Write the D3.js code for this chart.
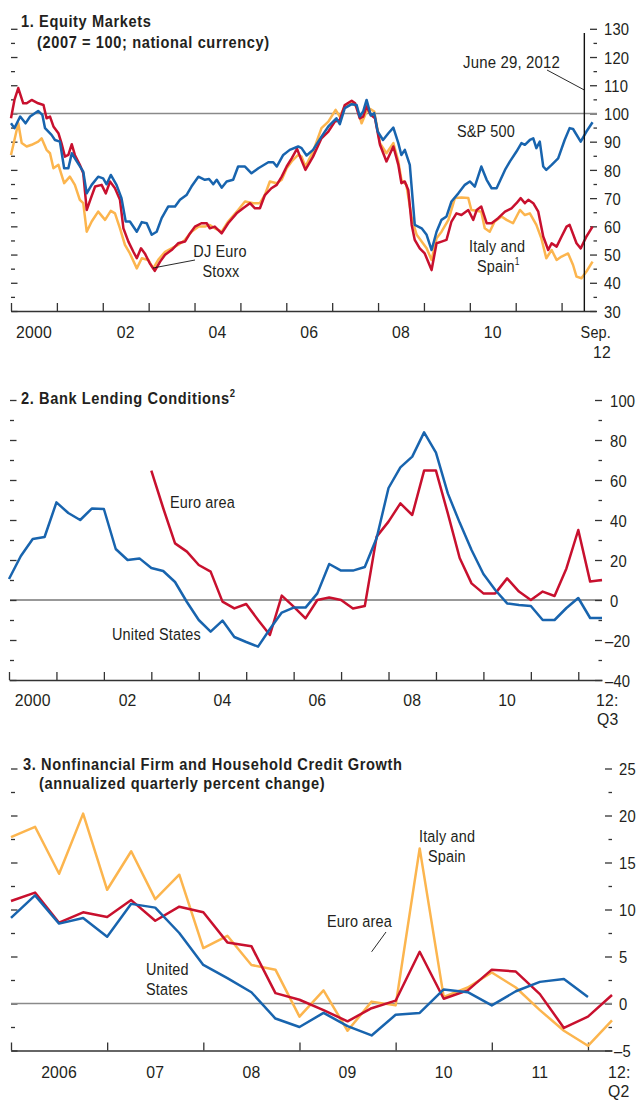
<!DOCTYPE html>
<html>
<head>
<meta charset="utf-8">
<script src="https://cdn.jsdelivr.net/npm/d3@7"></script>
<style>
body { margin: 0; background: #fff; }
text { font-family: "Liberation Sans", Arial, sans-serif; fill: #231f20; font-size: 17px; letter-spacing: 0.2px; }
.title { font-weight: bold; letter-spacing: 0.7px; }
.tick line { stroke: #333; stroke-width: 1.3; }
.tick text { font-size: 17px; fill: #231f20; }
.series { fill: none; stroke-width: 2.5; stroke-linejoin: round; }
</style>
</head>
<body>
<svg id="chart" width="637" height="1100"></svg>
<script>
// ---- panel 1: equity markets, [months since Jan 2000, index 2007=100]
var sp500 = [[0,96.5],[0.9,94.8],[2.4,98.9],[3.8,96.5],[5.0,98.9],[7.1,100.9],[8.2,99.5],[8.9,94.8],[10.6,92.4],[11.5,90.6],[12.8,90],[13.9,80.6],[15.0,80.6],[15.9,85.9],[17.2,83],[18.9,79.4],[19.8,71.7],[21.1,74.7],[22.8,77.6],[24.1,77],[25.0,74.9],[26.1,78.2],[27.6,74.7],[28.9,70],[30.0,61.7],[31.1,61.7],[32.9,58.1],[34.2,61.5],[35.5,61.1],[36.8,57],[38.1,58.1],[39.4,62.9],[41.1,67],[42.9,67],[44.2,69.4],[45.9,71.1],[47.2,74.1],[49.0,77.6],[50.7,76.5],[51.8,76.8],[52.9,74.9],[53.8,76.5],[55.1,73.7],[56.4,75.9],[58.1,76.5],[59.4,81.2],[61.2,81.2],[62.9,78.8],[64.7,80.6],[67.3,82.7],[68.6,82.7],[69.5,81.2],[71.2,85.3],[72.9,87.1],[75.1,88.3],[76.0,87.7],[77.3,85.1],[79.0,87.1],[81.2,91.8],[83.0,95.4],[85.1,98.3],[86.0,96.2],[87.3,101.9],[89.1,103.3],[90.4,103],[91.2,98.9],[92.1,100.7],[93.0,104.8],[94.1,99.3],[95.0,100.1],[95.9,93.6],[97.3,90.6],[98.7,93],[100.0,95],[101.3,89.5],[102.1,85.3],[103.0,87.1],[104.3,81.8],[105.6,60.5],[107.4,59.3],[108.7,57],[110.0,51.6],[111.3,58.1],[112.6,62.3],[113.9,63.5],[115.2,68.8],[117.0,71.7],[118.7,74.7],[120.0,75.9],[121.3,74.1],[123.0,81.2],[124.4,76.5],[125.7,73.5],[127.0,73.5],[129.2,80],[130.5,83],[132.2,86.5],[133.5,89.5],[134.4,88.9],[135.7,90.6],[136.6,91.2],[137.4,87.7],[138.3,90],[139.2,81.2],[140.0,80],[141.4,81.8],[143.1,84.1],[144.8,90.6],[146.1,94.8],[147.0,94.5],[149.0,90],[150.5,93.6],[152.1,96.9]];

var euroStoxx = [[0,98.3],[0.9,104.8],[1.9,109],[3.2,103.6],[4.1,103.6],[5.4,104.8],[7.1,103.6],[8.5,103],[9.3,98.3],[10.2,98.9],[11.1,95.4],[12.4,93],[13.2,89.5],[14.1,84.7],[15.0,85.3],[15.9,89.1],[16.7,85.3],[18.0,81.8],[18.9,78.8],[19.8,65.8],[20.9,70],[22.0,74.1],[23.7,74.7],[24.8,71.7],[25.9,75.9],[27.2,73.5],[28.5,69.4],[29.4,59.3],[30.7,54.6],[32.0,51],[32.9,48.7],[34.0,52.2],[35.0,50.4],[36.3,46.9],[37.6,44.2],[39.0,47.5],[40.3,49.9],[42.0,51.6],[43.7,54],[45.5,54.6],[46.8,57.5],[48.1,59.9],[49.8,61.1],[51.2,61.1],[52.0,59.3],[53.3,59.9],[55.1,57.5],[56.8,61.1],[59.0,64.6],[60.7,66.4],[62.5,68.2],[63.8,66.4],[65.1,66.4],[66.4,71.1],[68.1,73.5],[69.5,74.7],[70.8,77.6],[72.1,81.2],[73.4,84.1],[74.8,87.5],[75.8,84],[77.0,80],[79.0,84.7],[81.2,91.2],[83.0,93.6],[84.7,97.1],[86.0,97.7],[87.3,103],[89.1,104.5],[90.0,103.6],[91.2,98.3],[92.1,98.9],[93.0,102.5],[94.1,99.5],[95.2,98.3],[96.5,88.9],[98.2,83],[100.0,88.3],[101.3,81.8],[102.1,75.3],[103.0,75.9],[103.9,72.9],[104.8,60.5],[105.6,55.2],[106.9,52.2],[108.2,50.4],[110.0,44.5],[111.3,54],[112.6,54.6],[113.9,55.2],[115.2,61.7],[116.5,64.6],[117.8,64],[119.6,65.8],[120.9,62.3],[121.8,65.8],[123.0,67],[124.4,61.1],[125.7,61.1],[127.4,62.9],[129.2,65.2],[130.9,66.4],[132.2,68.2],[133.3,70],[134.4,68.2],[135.3,69.4],[136.6,68.2],[137.9,65.2],[139.2,56.4],[140.5,51.6],[141.4,54],[142.7,52.8],[144.0,56.4],[145.3,59.9],[146.1,60.5],[147.9,54],[149.0,52.2],[150.5,56.4],[152.1,59.9]];

var italySpainEq = [[0,85.3],[1.0,91.2],[1.9,96.5],[2.8,89.5],[4.1,88.3],[5.4,88.9],[7.1,90],[8.0,91.2],[9.3,87.1],[10.2,85.9],[11.1,80.6],[12.4,81.8],[13.9,75.3],[15.4,77.6],[16.7,74.7],[18.0,69.4],[18.9,68.2],[19.8,58.1],[21.1,61.7],[22.8,65.2],[24.6,62.3],[26.1,65.5],[27.2,64.6],[28.5,59.3],[29.8,53.4],[31.1,50.4],[32.9,45.1],[34.2,48.7],[35.9,48.1],[37.2,45.1],[38.5,48.1],[40.3,51],[42.0,52.2],[43.7,53.4],[45.5,55.2],[47.2,58.1],[49.0,59.9],[50.7,59.9],[52.0,60.5],[53.3,59.3],[55.1,58.1],[56.8,61.7],[59.4,65.8],[61.2,68.8],[63.4,68.2],[65.1,68.2],[66.4,71.1],[67.7,75.9],[69.5,75.3],[70.8,76.5],[72.1,80.6],[73.4,83],[75.1,85.3],[76.0,84.7],[77.0,81.2],[79.0,86.5],[81.2,94.8],[83.0,97.1],[84.9,101.3],[86.0,98.9],[87.3,102.5],[89.1,103.6],[90.4,102.5],[91.7,96.5],[93.0,100.7],[93.9,101.6],[95.0,100.7],[96.5,89.5],[98.2,85.9],[100.0,89.5],[101.3,83],[102.1,76.5],[103.4,74.7],[104.8,62.9],[106.1,57],[107.4,54.6],[108.7,52.2],[110.0,48.1],[111.3,55.8],[112.6,58.1],[114.4,62.3],[116.1,70],[117.8,70.2],[119.6,70],[120.4,65.8],[121.8,65.5],[123.0,65.2],[123.9,59.3],[125.2,58.1],[126.5,61.7],[128.3,63.5],[129.6,62.3],[131.3,61.1],[133.1,65.8],[134.4,64],[135.7,64.6],[137.4,60.5],[138.7,55.8],[140.0,48.7],[141.4,51.6],[142.7,48.1],[144.0,49.3],[145.7,50.4],[147.0,46.3],[147.9,42.2],[149.2,41.6],[150.5,44],[152.1,47.5]];

var eqTicks = [30, 40, 50, 60, 70, 80, 90, 100, 110, 120, 130];
var eqYearLabels = ["2000", "02", "04", "06", "08", "10"];

// ---- panel 2: bank lending conditions, quarterly
var usLendingStart = 2000;   // 2000:Q1
var usLending = [10.5,22,30.5,31.5, 48.8,43.5,40,45.8, 45.5,25.5,20,20.8, 16,14.5,9,-1, -10,-15.8,-10.3,-18.5, -21,-23.3,-14.5,-6.3, -3.8,-3.8,3.3,18, 14.7,14.7,16.5,31, 56,66.3,71.7,83.8, 73.7,53.3,38.7,25, 13,5,-1.7,-2.5, -3,-10,-10,-4, 1,-9,-9];
var euroLendingStart = 2003; // 2003:Q1
var euroLending = [64.7,46,28.3,24.2, 17.5,14.2,-0.8,-4.2, -2,-10,-17.5,2.2, -3.3,-9.2,0,1.2, 0,-4.2,-3,31.7, 39.2,48.3,42.5,64.7, 64.7,43.3,21,8.3, 3.3,3.3,10.8,4.2, 0,4.2,2,15.8, 35,9.2,10];
var lendTicks = [-40, -20, 0, 20, 40, 60, 80, 100];
var lendYearLabels = ["2000", "02", "04", "06", "08", "10"];

// ---- panel 3: credit growth, quarterly from 2006:Q1
var creditStart = 2006;
var italySpainCredit = [17.7,18.8,13.8,20.2, 12.1,16.2,11.1,13.7, 5.9,7.2,4.1,3.6, -1.4,1.4,-2.9,0.2, -0.2,16.5,0.7,1.7, 3.3,1.7,-0.7,-2.9, -4.5,-1.8];
var euroCredit = [10.9,11.8,8.6,9.7, 9.2,11.0,8.8,10.3, 9.7,6.5,6.1,1.1, 0.4,-0.7,-1.9,-0.5, 0.3,5.5,0.5,1.4, 3.6,3.4,1.0,-2.6, -1.4,0.9];
var usCredit = [9.1,11.5,8.5,9.1, 7.1,10.6,10.2,7.5, 4.1,2.7,1.2,-1.6, -2.5,-1.0,-2.4,-3.4, -1.2,-1.0,1.5,1.2, -0.2,1.3,2.3,2.6, 0.7];
var creditTicks = [-5, 0, 5, 10, 15, 20, 25];
var creditYearLabels = ["2006", "07", "08", "09", "10", "11"];

var BLUE = "#1864ae", RED = "#c8102e", YELLOW = "#fcb54e";
var SX_WORD = 0.85, SX_NUM = 0.93, SX_TICK = 0.87;   // condensed look (no narrow face installed)

var svg = d3.select("#chart");

function negFmt(d) { return d < 0 ? "\u2013" + Math.abs(d) : String(d); }

// text drawn through a horizontal squeeze
function txt(x, y, s, sx, anchor, cls) {
    var t = svg.append("text")
        .attr("transform", "translate(" + x + "," + y + ") scale(" + (sx || SX_WORD) + ",1)")
        .text(s);
    if (anchor) t.attr("text-anchor", anchor);
    if (cls) t.attr("class", cls);
    return t;
}

function frame(p) {
    var g = svg.append("g");
    // left ticks (inward)
    g.append("g").attr("transform", "translate(" + p.xl + ",0)")
        .call(d3.axisRight(p.y).tickValues(p.ticks).tickSize(6.5).tickFormat(""))
        .call(a => a.select(".domain").remove());
    g.append("g").attr("transform", "translate(" + p.xl + ",0)")
        .call(d3.axisRight(p.y).tickValues(p.minor).tickSize(4).tickFormat(""))
        .call(a => a.select(".domain").remove());
    // right ticks + labels
    g.append("g").attr("transform", "translate(" + (p.xr - 7) + ",0)")
        .call(d3.axisRight(p.y).tickValues(p.ticks).tickSize(7).tickPadding(p.pad).tickFormat(negFmt))
        .call(a => a.select(".domain").remove())
        .selectAll("text")
        .attr("font-family", null).attr("font-size", null).attr("dy", "0.36em")
        .attr("x", d => (7 + p.pad - (d < 0 ? 5 : 0)) / SX_TICK)
        .attr("transform", "scale(" + SX_TICK + ",1)");
    g.append("g").attr("transform", "translate(" + (p.xr - 3.5) + ",0)")
        .call(d3.axisRight(p.y).tickValues(p.minor).tickSize(3.5).tickFormat(""))
        .call(a => a.select(".domain").remove());
    // reference line
    g.append("line").attr("x1", p.xl).attr("x2", p.xr)
        .attr("y1", p.y(p.ref)).attr("y2", p.y(p.ref))
        .attr("stroke", p.refColor).attr("stroke-width", p.refWidth);
    // x axis
    var base = p.y.range()[0];
    g.append("g").attr("transform", "translate(0," + base + ")")
        .call(d3.axisTop(p.x).tickValues(p.years).tickSize(8).tickSizeOuter(0).tickFormat(""))
        .call(a => a.select(".domain").attr("stroke", "#333").attr("stroke-width", 1.6));
    p.yearLabels.forEach(function (d, i) {
        txt(p.x(p.years[0] + 2 * i * p.labelStep + 0.5), base + p.labelDy, d, SX_NUM, "middle");
    });
    return g;
}

function drawLine(pts, x, y, color) {
    svg.append("path").datum(pts)
        .attr("class", "series")
        .attr("stroke", color)
        .attr("d", d3.line().x(d => x(d[0])).y(d => y(d[1])));
}

function leader(xa, ya, xb, yb) {
    svg.append("line").attr("x1", xa).attr("y1", ya).attr("x2", xb).attr("y2", yb)
        .attr("stroke", "#111").attr("stroke-width", 0.9);
}

// ================= Panel 1 =================
var x1 = d3.scaleLinear().domain([2000, 2012.75]).range([11, 596]);
var y1 = d3.scaleLinear().domain([30, 130]).range([311, 28.8]);
frame({
    x: x1, y: y1, xl: 11, xr: 597, pad: 7,
    ticks: eqTicks, minor: d3.range(35, 130, 10),
    ref: 100, refColor: "#8a8a8a", refWidth: 1.5,
    years: d3.range(2000, 2013), yearLabels: eqYearLabels, labelStep: 1, labelDy: 27
});
var m2t = d => [2000 + d[0] / 12, d[1]];
drawLine(italySpainEq.map(m2t), x1, y1, YELLOW);
drawLine(euroStoxx.map(m2t), x1, y1, RED);
drawLine(sp500.map(m2t), x1, y1, BLUE);

// June 29, 2012 marker
var june = 2012 + 5.95 / 12;
svg.append("line").attr("x1", x1(june)).attr("x2", x1(june))
    .attr("y1", 33).attr("y2", y1(30)).attr("stroke", "#111").attr("stroke-width", 1.4);
leader(547, 70, x1(june), 90);
txt(463, 68, "June 29, 2012", 0.88);
txt(611, 338, "Sep.", SX_WORD, "end");
txt(611, 358, "12", SX_NUM, "end");
txt(457, 137, "S&P 500");
txt(220, 257, "DJ Euro", SX_WORD, "middle");
txt(221, 277, "Stoxx", SX_WORD, "middle");
leader(195, 260, 153, 268);
txt(469, 252, "Italy and");
txt(477, 272, "Spain").append("tspan").attr("dy", -7).attr("font-size", 10).text("1");
txt(21, 27, "1. Equity Markets", 0.86, null, "title");
txt(37, 48, "(2007 = 100; national currency)", 0.86, null, "title");

// ================= Panel 2 =================
var x2 = d3.scaleLinear().domain([2000, 2012.5]).range([9, 602]);
var y2 = d3.scaleLinear().domain([-40, 100]).range([680, 400]);
frame({
    x: x2, y: y2, xl: 10, xr: 602, pad: 8,
    ticks: lendTicks, minor: d3.range(-30, 100, 20),
    ref: 0, refColor: "#333", refWidth: 1,
    years: d3.range(2000, 2013), yearLabels: lendYearLabels, labelStep: 1, labelDy: 26
});
drawLine(euroLending.map((v, i) => [euroLendingStart + i / 4, v]), x2, y2, RED);
drawLine(usLending.map((v, i) => [usLendingStart + i / 4, v]), x2, y2, BLUE);
txt(596, 706, "12:", SX_NUM);
txt(597, 725, "Q3", SX_NUM);
txt(170, 508, "Euro area");
txt(112, 640, "United States");
txt(21, 404, "2. Bank Lending Conditions", 0.86, null, "title")
    .append("tspan").attr("dy", -7).attr("font-size", 11).text("2");

// ================= Panel 3 =================
var x3 = d3.scaleLinear().domain([2006, 2012.25]).range([11, 612]);
var y3 = d3.scaleLinear().domain([-5, 25]).range([1050.5, 768.5]);
frame({
    x: x3, y: y3, xl: 11, xr: 612, pad: 7,
    ticks: creditTicks, minor: d3.range(-2.5, 25, 5),
    ref: 0, refColor: "#8a8a8a", refWidth: 1.5,
    years: d3.range(2006, 2013), yearLabels: creditYearLabels, labelStep: 0.5, labelDy: 27
});
var q = start => (v, i) => [start + i / 4, v];
drawLine(italySpainCredit.map(q(creditStart)), x3, y3, YELLOW);
drawLine(euroCredit.map(q(creditStart)), x3, y3, RED);
drawLine(usCredit.map(q(creditStart)), x3, y3, BLUE);
txt(608, 1078, "12:", SX_NUM);
txt(608, 1097, "Q2", SX_NUM);
txt(419, 842, "Italy and");
txt(428, 862, "Spain");
txt(327, 927, "Euro area");
leader(386, 932, x3(2009.75), y3(5.5));
txt(146, 975, "United");
txt(146, 995, "States");
txt(23, 770, "3. Nonfinancial Firm and Household Credit Growth", 0.86, null, "title");
txt(39, 789, "(annualized quarterly percent change)", 0.86, null, "title");
</script>
</body>
</html>
